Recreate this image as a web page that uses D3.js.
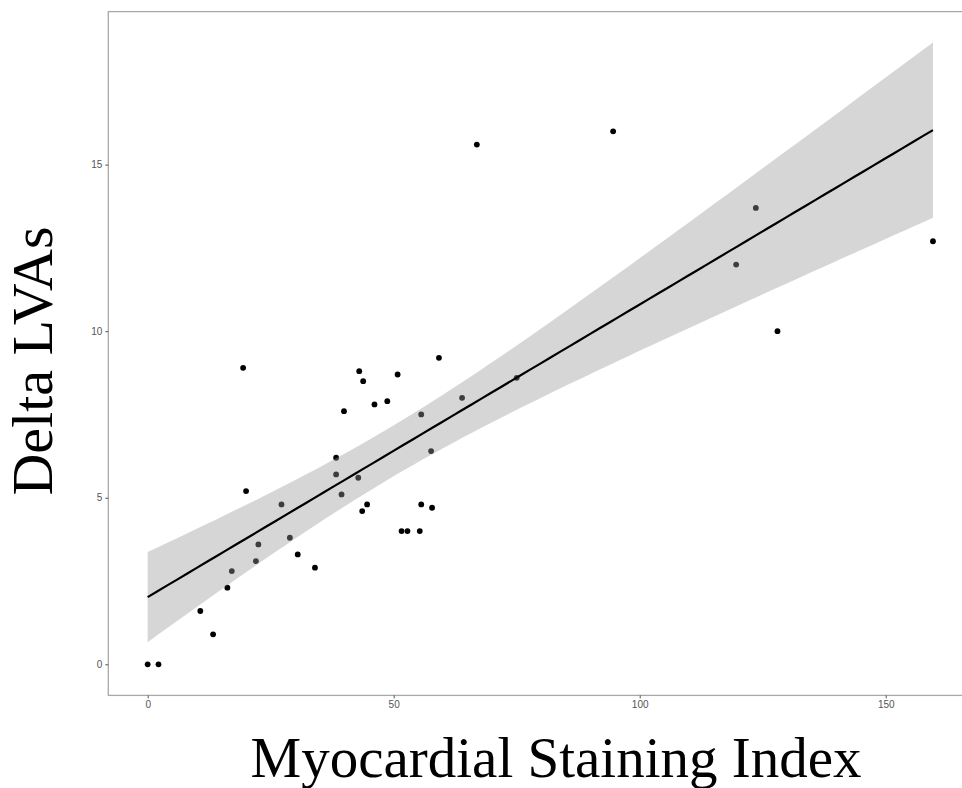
<!DOCTYPE html>
<html>
<head>
<meta charset="utf-8">
<script src="https://cdn.jsdelivr.net/npm/d3@7"></script>
<style>
  html, body { margin: 0; padding: 0; background: #fff; }
  svg { display: block; }
</style>
</head>
<body>
<svg id="chart" width="962" height="788"></svg>
<script>
// ---- data ----
const staining = [0, 2.2, 10.7, 13.3, 16.2, 17.1, 19.4, 20.0, 22.0, 22.5,
  27.2, 28.9, 30.5, 34.0, 38.3, 38.3, 39.4, 39.9, 42.8, 43.0,
  43.8, 43.6, 44.6, 46.1, 48.7, 50.8, 51.6, 52.8, 55.3, 55.6,
  55.6, 57.6, 57.8, 59.2, 63.9, 66.9, 75.0, 94.6, 119.6, 123.6,
  128.0, 159.6];
const deltaLVAs = [0, 0, 1.6, 0.9, 2.3, 2.8, 8.9, 5.2, 3.1, 3.6,
  4.8, 3.8, 3.3, 2.9, 6.2, 5.7, 5.1, 7.6, 5.6, 8.8,
  8.5, 4.6, 4.8, 7.8, 7.9, 8.7, 4.0, 4.0, 4.0, 7.5,
  4.8, 6.4, 4.7, 9.2, 8.0, 15.6, 8.6, 16.0, 12.0, 13.7,
  10.0, 12.7];
const xTicks = [0, 50, 100, 150];
const yTicks = [0, 5, 10, 15];
const xTitle = "Myocardial Staining Index";
const yTitle = "Delta LVAs";
const tQuantile = 2.021; // t(0.975, df = n - 2)

// ---- linear fit with 95% confidence band (like geom_smooth(method = "lm")) ----
const n = staining.length;
const mx = d3.mean(staining), my = d3.mean(deltaLVAs);
let sxx = 0, sxy = 0;
for (let i = 0; i < n; i++) {
  sxx += (staining[i] - mx) ** 2;
  sxy += (staining[i] - mx) * (deltaLVAs[i] - my);
}
const slope = sxy / sxx, intercept = my - slope * mx;
let sse = 0;
for (let i = 0; i < n; i++) sse += (deltaLVAs[i] - intercept - slope * staining[i]) ** 2;
const sigma = Math.sqrt(sse / (n - 2));
const xMin = d3.min(staining), xMax = d3.max(staining);
const fit = d3.range(0, 81).map(k => {
  const xv = xMin + (xMax - xMin) * k / 80;
  const yv = intercept + slope * xv;
  const se = sigma * Math.sqrt(1 / n + (xv - mx) ** 2 / sxx);
  return { x: xv, y: yv, lo: yv - tQuantile * se, hi: yv + tQuantile * se };
});

// ---- layout ----
const svg = d3.select("#chart");
const panel = { left: 108.3, right: 974.3, top: 11.6, bottom: 695.4 };
const x = d3.scaleLinear().domain([-8, 168]).range([panel.left, panel.right]);
const y = d3.scaleLinear().domain([-0.933, 19.593]).range([panel.bottom, panel.top]);

// points (drawn under the ribbon, as in ggplot)
svg.append("g").selectAll("circle")
  .data(staining.map((v, i) => ({ x: v, y: deltaLVAs[i] })))
  .join("circle")
  .attr("cx", d => x(d.x))
  .attr("cy", d => y(d.y))
  .attr("r", 2.9)
  .attr("fill", "#000");

// ribbon
svg.append("path")
  .datum(fit)
  .attr("d", d3.area().x(d => x(d.x)).y0(d => y(d.lo)).y1(d => y(d.hi)))
  .attr("fill", "#999999")
  .attr("fill-opacity", 0.4);

// fitted line
svg.append("path")
  .datum(fit)
  .attr("d", d3.line().x(d => x(d.x)).y(d => y(d.y)))
  .attr("fill", "none")
  .attr("stroke", "#000")
  .attr("stroke-width", 2.2);

// panel border
svg.append("rect")
  .attr("x", panel.left).attr("y", panel.top)
  .attr("width", panel.right - panel.left).attr("height", panel.bottom - panel.top)
  .attr("fill", "none").attr("stroke", "#a8a8a8").attr("stroke-width", 1.3);

// axes
const xAxis = svg.append("g")
  .attr("transform", `translate(0,${panel.bottom})`)
  .call(d3.axisBottom(x).tickValues(xTicks).tickSize(3).tickPadding(3));
const yAxis = svg.append("g")
  .attr("transform", `translate(${panel.left},0)`)
  .call(d3.axisLeft(y).tickValues(yTicks).tickSize(3).tickPadding(3));
[xAxis, yAxis].forEach(g => {
  g.select(".domain").remove();
  g.selectAll(".tick line").attr("stroke", "#555").attr("stroke-width", 1);
  g.selectAll(".tick text")
    .attr("fill", "#555")
    .style("font-family", "'Liberation Sans', Arial, sans-serif")
    .style("font-size", "10px");
});

// titles
svg.append("text")
  .attr("x", 556).attr("y", 777)
  .attr("text-anchor", "middle")
  .style("font-family", "'Liberation Serif', 'Times New Roman', serif")
  .style("font-size", "57px")
  .attr("fill", "#000")
  .text(xTitle);

svg.append("text")
  .attr("transform", "translate(52,361) rotate(-90)")
  .attr("text-anchor", "middle")
  .style("font-family", "'Liberation Serif', 'Times New Roman', serif")
  .style("font-size", "58px")
  .attr("fill", "#000")
  .text(yTitle);
</script>
</body>
</html>
